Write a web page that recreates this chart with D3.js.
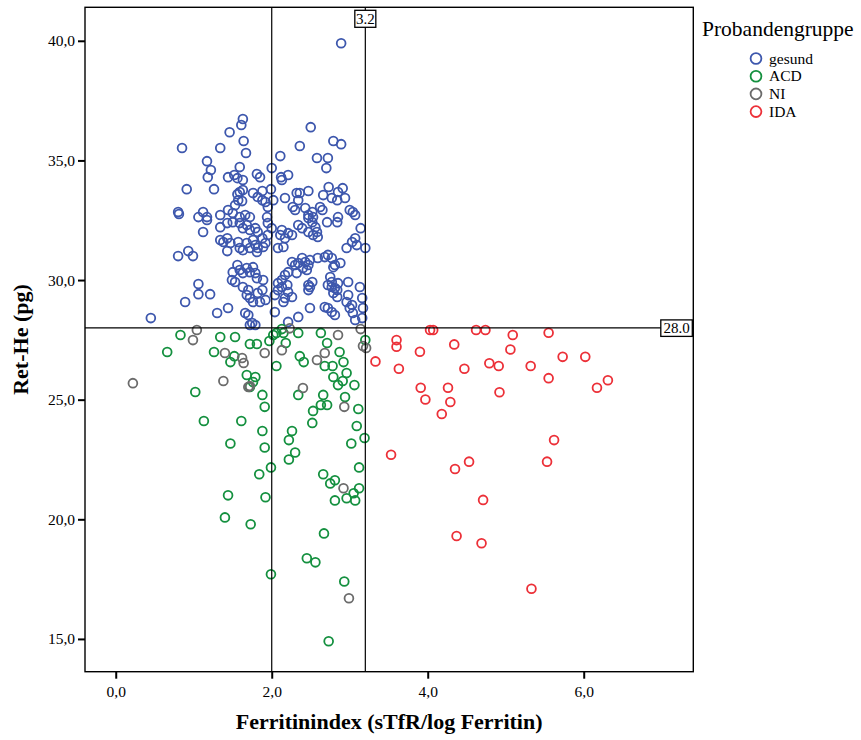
<!DOCTYPE html>
<html>
<head>
<meta charset="utf-8">
<script src="https://cdn.jsdelivr.net/npm/d3@7"></script>
<style>
  body { margin: 0; background: #fff; }
  text { font-family: "Liberation Serif", "Times New Roman", serif; fill: #000; }
</style>
</head>
<body>
<svg id="chart" width="861" height="740"></svg>
<script>
/// Data (Ferritinindex, Ret-He) per group ///
var gesund = [
  [2.89,39.90],[1.63,36.73],[1.61,36.48],[1.46,36.18],[2.50,36.39],[0.85,35.52],[1.34,35.52],[1.64,35.81],
  [1.67,35.31],[2.36,35.60],[2.79,35.81],[2.89,35.68],[2.11,35.18],[2.58,35.10],[2.72,35.10],[1.17,34.97],
  [2.70,34.68],[1.22,34.60],[1.59,34.72],[2.00,34.68],[1.18,34.30],[1.44,34.30],[1.52,34.39],[1.56,34.26],
  [1.63,34.18],[1.81,34.43],[1.85,34.30],[2.12,34.30],[2.21,34.39],[2.13,34.18],[0.91,33.80],[1.26,33.80],
  [1.63,33.76],[1.59,33.68],[1.56,33.59],[1.57,33.34],[1.53,33.13],[1.62,33.30],[1.76,33.64],[1.82,33.47],
  [1.88,33.34],[1.99,33.80],[1.88,33.72],[1.92,33.26],[1.95,33.05],[2.02,33.34],[2.17,33.43],[2.32,33.64],
  [2.36,33.64],[2.47,33.72],[2.34,33.34],[2.27,33.05],[2.30,32.93],[2.43,33.01],[2.52,32.84],[2.47,32.72],
  [2.53,32.63],[2.62,33.05],[2.65,32.93],[2.66,33.55],[2.73,33.89],[2.77,33.43],[2.84,33.34],[2.85,33.68],
  [2.91,33.84],[2.94,33.43],[3.00,32.93],[3.04,32.84],[0.80,32.84],[0.81,32.76],[1.12,32.84],[1.06,32.63],
  [1.17,32.63],[1.34,32.72],[1.44,32.93],[1.50,32.80],[1.59,32.63],[1.66,32.72],[1.72,32.63],[1.17,32.51],
  [1.12,32.01],[1.34,32.21],[1.43,32.38],[1.50,32.42],[1.59,32.38],[1.63,32.17],[1.68,32.30],[1.72,32.09],
  [1.79,32.17],[1.34,31.67],[1.38,31.59],[1.43,31.75],[1.47,31.55],[1.43,31.21],[1.57,31.59],[1.59,31.34],
  [1.63,31.25],[1.68,31.55],[1.72,31.34],[1.79,31.46],[1.76,31.67],[1.81,31.17],[0.80,31.00],[0.93,31.21],
  [0.99,31.00],[1.56,30.63],[1.59,30.42],[1.50,30.33],[1.49,30.00],[1.53,29.92],[1.63,30.29],[1.68,30.50],
  [1.72,30.33],[1.76,30.54],[1.79,30.29],[1.81,30.08],[1.06,29.83],[1.06,29.41],[1.21,29.41],[0.89,29.08],
  [1.63,29.71],[1.70,29.58],[1.68,29.37],[1.72,29.25],[1.76,29.08],[1.44,28.83],[1.30,28.62],[0.45,28.41],
  [1.66,28.62],[1.70,28.54],[1.75,28.20],[1.79,28.12],[1.72,28.12],[1.94,32.63],[1.95,32.38],[1.82,32.01],
  [1.88,31.75],[1.82,31.34],[1.89,31.38],[1.92,31.55],[1.95,31.88],[2.00,32.17],[2.13,32.09],[2.11,31.88],
  [2.17,31.75],[2.15,31.38],[2.08,31.34],[2.21,31.96],[2.26,31.88],[2.34,32.30],[2.39,32.17],[2.47,32.59],
  [2.52,32.42],[2.56,32.21],[2.58,32.01],[2.59,31.80],[2.47,32.01],[2.53,31.88],[2.71,32.42],[2.84,32.42],
  [2.85,32.63],[3.07,32.72],[3.14,32.17],[3.07,31.75],[3.03,31.59],[2.96,31.34],[3.09,31.46],[3.20,31.34],
  [2.59,30.92],[2.68,30.96],[2.72,31.05],[2.77,30.92],[2.81,30.63],[2.88,30.71],[2.79,30.54],[2.26,30.75],
  [2.30,30.63],[2.34,30.71],[2.39,30.92],[2.43,30.75],[2.47,30.63],[2.49,30.84],[2.40,30.50],[2.45,30.42],
  [2.32,30.29],[2.21,30.33],[2.17,30.21],[2.13,30.00],[2.08,29.87],[2.13,29.71],[2.20,29.79],[2.21,29.50],
  [2.26,29.29],[2.17,29.25],[2.04,29.37],[2.08,29.58],[2.04,28.66],[2.15,29.08],[1.89,30.00],[1.88,29.58],
  [1.82,29.46],[1.85,29.08],[1.92,29.17],[2.47,29.79],[2.49,29.71],[2.52,29.92],[2.47,29.58],[2.49,28.83],
  [2.34,28.46],[2.21,28.25],[2.75,30.13],[2.77,29.92],[2.72,29.79],[2.77,29.71],[2.81,29.67],[2.84,29.58],
  [2.85,29.87],[2.79,29.46],[2.84,29.29],[2.98,29.92],[3.13,29.71],[3.16,29.25],[2.98,29.37],[2.96,29.08],
  [3.03,28.96],[3.00,28.83],[3.04,28.62],[3.07,28.33],[2.81,28.54],[2.68,28.87],[2.72,28.83],[2.77,28.66],
  [3.17,28.83],[3.16,28.41]
];
var acd = [
  [0.83,27.70],[1.34,27.62],[1.53,27.62],[0.66,26.99],[1.26,26.99],[1.47,26.57],[1.52,26.82],[1.72,27.33],
  [1.81,27.33],[1.97,27.45],[2.02,27.70],[2.06,27.79],[2.13,27.95],[2.15,27.79],[2.18,27.37],[2.34,27.79],
  [2.06,26.41],[2.36,26.82],[2.41,26.57],[2.63,27.79],[2.71,27.37],[2.68,26.41],[2.78,26.41],[2.87,26.99],
  [2.92,26.57],[2.96,26.11],[2.79,25.95],[2.85,25.61],[2.91,25.78],[3.06,25.61],[3.20,27.49],[1.68,26.03],
  [1.79,25.95],[1.76,25.74],[1.72,25.53],[1.88,25.20],[1.91,24.70],[2.34,25.20],[2.53,24.53],[2.52,24.03],
  [2.63,24.78],[2.66,25.20],[2.71,24.78],[3.11,24.61],[1.13,24.11],[1.61,24.11],[1.88,23.69],[2.26,23.69],
  [2.22,23.31],[3.09,23.90],[3.19,23.40],[3.02,23.17],[1.47,23.17],[1.91,23.00],[2.30,22.79],[2.22,22.50],
  [1.99,22.17],[1.84,21.88],[3.12,22.17],[2.66,21.88],[2.75,21.50],[2.81,21.63],[3.12,21.30],[3.05,21.09],
  [2.96,20.88],[3.07,20.79],[1.44,21.00],[1.92,20.92],[2.81,20.79],[1.40,20.08],[1.73,19.79],[2.67,19.41],
  [2.45,18.37],[2.56,18.20],[1.99,17.70],[2.93,17.40],[2.73,14.90],[1.02,25.32],[2.94,25.11]
];
var ni = [
  [1.04,27.91],[0.99,27.49],[1.40,26.95],[1.62,26.74],[1.64,26.53],[1.91,26.95],[2.13,27.07],[2.23,27.98],
  [2.68,26.95],[2.58,26.66],[2.85,27.70],[3.14,27.95],[3.17,27.24],[3.21,27.16],[0.22,25.69],[1.38,25.78],
  [1.70,25.53],[1.72,25.57],[2.40,25.49],[2.93,24.70],[2.92,21.30],[2.99,16.70]
];
var ida = [
  [4.03,27.91],[4.07,27.91],[4.62,27.91],[4.74,27.91],[5.09,27.70],[5.55,27.80],[3.60,27.49],[3.60,27.21],
  [4.34,27.31],[3.90,27.00],[5.06,27.10],[5.73,26.79],[6.02,26.79],[3.33,26.60],[3.63,26.29],[4.47,26.29],
  [4.79,26.52],[4.91,26.41],[5.32,26.41],[5.55,25.90],[6.31,25.81],[6.17,25.50],[3.91,25.50],[3.97,25.01],
  [4.26,25.50],[4.29,24.90],[4.92,25.31],[4.18,24.40],[5.62,23.31],[3.53,22.70],[4.53,22.41],[4.35,22.10],
  [5.53,22.41],[4.71,20.81],[4.37,19.30],[4.69,19.00],[5.33,17.10]
];

var groupNames = ["gesund", "ACD", "NI", "IDA"];
var groupData = [gesund, acd, ni, ida];
var groupColors = ["#3d57ad", "#14903f", "#6b6b6b", "#ec3038"];

var xTicks = [0, 2, 4, 6];
var yTicks = [15, 20, 25, 30, 35, 40];
var refX = [2.0, 3.2];      // vertical reference lines
var refXLabel = 3.2;
var refY = 28.0;            // horizontal reference line

function drawChart() {

/// Settings ///
var svg = d3.select("#chart");
var mLeft = 85, mRight = 693.3, mTop = 7.3, mBottom = 671.7;

var x = d3.scaleLinear().domain([-0.394, 7.405]).range([mLeft, mRight]);
var y = d3.scaleLinear().domain([13.63, 41.40]).range([mBottom, mTop]);

var fmt = function(d) { return d3.format(".1f")(d).replace(".", ","); };

// points
var pts = svg.append("g");
groupData.forEach(function(data, gi) {
  pts.append("g")
    .selectAll("circle")
    .data(data)
    .enter().append("circle")
      .attr("cx", function(d) { return x(d[0]); })
      .attr("cy", function(d) { return y(d[1]); })
      .attr("r", 4.4)
      .attr("fill", "none")
      .attr("stroke", groupColors[gi])
      .attr("stroke-width", 1.8);
});

// reference lines
svg.append("g").selectAll("line")
  .data(refX)
  .enter().append("line")
    .attr("x1", function(d) { return x(d); })
    .attr("x2", function(d) { return x(d); })
    .attr("y1", mTop)
    .attr("y2", mBottom)
    .attr("stroke", "#000")
    .attr("stroke-width", 1.2);

svg.append("line")
  .attr("x1", mLeft).attr("x2", mRight)
  .attr("y1", y(refY)).attr("y2", y(refY))
  .attr("stroke", "#000")
  .attr("stroke-width", 1.2);

// label boxes on the reference lines
var lx = svg.append("g").attr("transform", "translate(" + x(refXLabel) + "," + (mTop + 3) + ")");
lx.append("rect").attr("x", -10.5).attr("y", 0).attr("width", 21).attr("height", 17)
  .attr("fill", "#fff").attr("stroke", "#000").attr("stroke-width", 1.3);
lx.append("text").attr("x", 0).attr("y", 13.5).attr("text-anchor", "middle")
  .style("font-size", "15px").text(refXLabel.toFixed(1));

var ly = svg.append("g").attr("transform", "translate(" + (mRight - 1) + "," + y(refY) + ")");
ly.append("rect").attr("x", -31.5).attr("y", -8).attr("width", 31.5).attr("height", 16.5)
  .attr("fill", "#fff").attr("stroke", "#000").attr("stroke-width", 1.3);
ly.append("text").attr("x", -15.7).attr("y", 5.5).attr("text-anchor", "middle")
  .style("font-size", "15px").text(refY.toFixed(1));

// frame
svg.append("rect")
  .attr("x", mLeft).attr("y", mTop)
  .attr("width", mRight - mLeft).attr("height", mBottom - mTop)
  .attr("fill", "none").attr("stroke", "#000").attr("stroke-width", 1.4);

// axes
var xAxis = svg.append("g")
  .attr("transform", "translate(0," + mBottom + ")")
  .call(d3.axisBottom(x).tickValues(xTicks).tickFormat(fmt).tickSize(7).tickPadding(7));
var yAxis = svg.append("g")
  .attr("transform", "translate(" + mLeft + ",0)")
  .call(d3.axisLeft(y).tickValues(yTicks).tickFormat(fmt).tickSize(7).tickPadding(3));

[xAxis, yAxis].forEach(function(a) {
  a.select(".domain").remove();
  a.selectAll(".tick line").attr("stroke", "#000").attr("stroke-width", 2);
  a.selectAll(".tick text").style("font-size", "15.5px")
    .style("font-family", "'Liberation Serif', serif").attr("fill", "#000");
});

// axis titles
svg.append("text")
  .attr("x", (mLeft + mRight) / 2).attr("y", 729)
  .attr("text-anchor", "middle")
  .style("font-size", "22px").style("font-weight", "bold")
  .text("Ferritinindex (sTfR/log Ferritin)");

svg.append("text")
  .attr("transform", "translate(28," + ((mTop + mBottom) / 2) + ") rotate(-90)")
  .attr("text-anchor", "middle")
  .style("font-size", "22px").style("font-weight", "bold")
  .text("Ret-He (pg)");

// legend
var legend = svg.append("g");
legend.append("text").attr("x", 702).attr("y", 36)
  .style("font-size", "21.5px").text("Probandengruppe");

var item = legend.selectAll(".item")
  .data(groupNames)
  .enter().append("g")
    .attr("transform", function(d, i) { return "translate(756," + (58.5 + i * 17.7) + ")"; });
item.append("circle").attr("r", 5.4).attr("fill", "none")
  .attr("stroke", function(d, i) { return groupColors[i]; }).attr("stroke-width", 1.8);
item.append("text").attr("x", 13).attr("y", 5)
  .style("font-size", "15.5px").text(function(d) { return d; });
}

drawChart();
</script>
</body>
</html>
